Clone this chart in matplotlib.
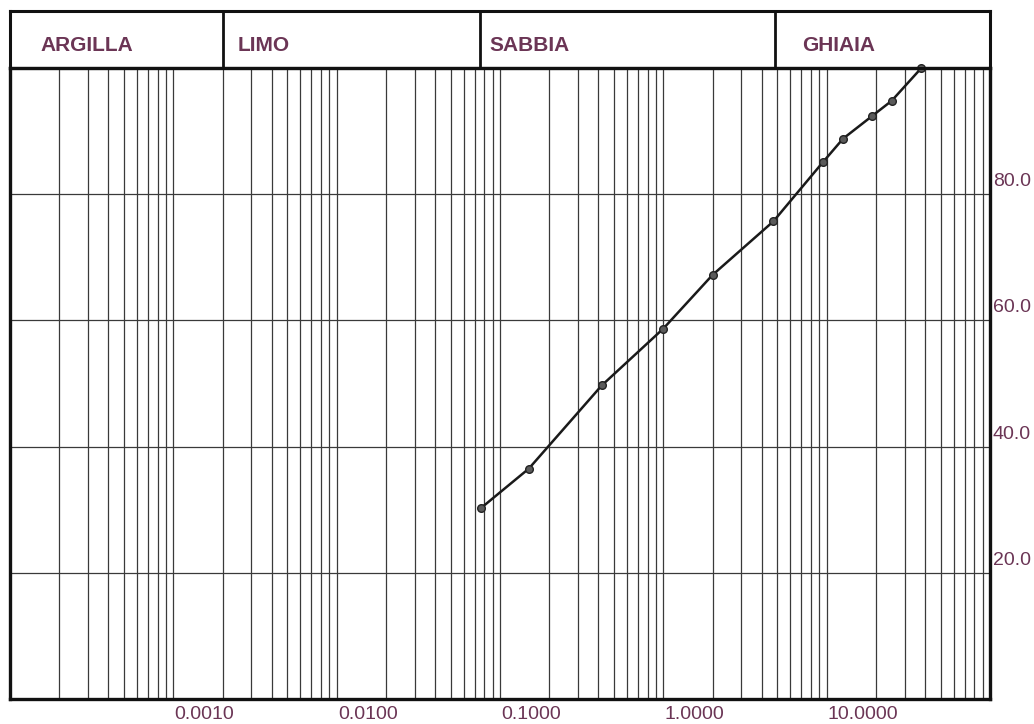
import numpy as np
import matplotlib
matplotlib.use("Agg")
import matplotlib.pyplot as plt
import matplotlib.transforms as mtransforms

# grain size (mm) and percent passing
diametri = [0.038, 0.075, 0.21, 0.5, 1.0, 2.36, 4.75, 6.3, 9.5, 12.5, 19.0]
passante = [30.2, 36.5, 49.7, 58.7, 67.2, 75.7, 85.1, 88.8, 92.4, 94.8, 100.0]

# soil classes and their lower limits on the size axis
classi = ["ARGILLA", "LIMO", "SABBIA", "GHIAIA"]
limiti_classi = [5e-5, 0.001, 0.0375, 2.4]

x_ticks = [0.001, 0.01, 0.1, 1, 10]
x_labels = ["0.0010", "0.0100", "0.1000", "1.0000", "10.0000"]
y_ticks = [20, 40, 60, 80]

plt.rcParams["font.family"] = ["Liberation Sans", "DejaVu Sans"]
label_col = "#6b3555"
grid_col = "#3a3a3a"

fig = plt.figure(figsize=(10.34, 7.24), dpi=100)
fig.patch.set_facecolor("white")
W, H = 1034.0, 724.0

# main grid
ax = fig.add_axes([10 / W, 25 / H, 980 / W, 631 / H])
ax.set_xscale("log")
ax.set_xlim(5e-5, 50)
ax.set_ylim(0, 100)

# vertical lines: 1, 1.5, 2 ... 5 in every decade
for e in range(-5, 2):
    for m in [1, 1.5, 2, 2.5, 3, 3.5, 4, 4.5, 5]:
        v = m * 10.0 ** e
        if 5e-5 < v < 50:
            ax.axvline(v, color=grid_col, lw=0.9, zorder=1)
for yv in y_ticks:
    ax.axhline(yv, color=grid_col, lw=0.9, zorder=1)

ax.plot(diametri, passante, color="#1a1a1a", lw=1.8, marker="o", ms=5.5,
        mfc="#5a5a5a", mec="#222222", mew=1.0, zorder=5, clip_on=False)

ax.set_xticks(x_ticks)
ax.set_xticklabels(x_labels)
ax.xaxis.set_minor_locator(matplotlib.ticker.NullLocator())
ax.set_yticks(y_ticks)
ax.set_yticklabels(["%.1f" % v for v in y_ticks])
ax.tick_params(axis="x", length=0, pad=5, labelsize=14, labelcolor=label_col)
ax.tick_params(axis="y", length=0, pad=2, labelsize=14, labelcolor=label_col,
               left=False, right=False, labelleft=False, labelright=True)
shift = mtransforms.ScaledTranslation(-48 / 100, 0, fig.dpi_scale_trans)
for lab in ax.get_xticklabels():
    lab.set_horizontalalignment("left")
    lab.set_transform(lab.get_transform() + shift)
up = mtransforms.ScaledTranslation(0, 4 / 100, fig.dpi_scale_trans)
for lab in ax.get_yticklabels():
    lab.set_verticalalignment("bottom")
    lab.set_transform(lab.get_transform() + up)
for sp in ax.spines.values():
    sp.set_linewidth(2.4)
    sp.set_color("#111111")

# class band on top (shares the size axis, no ticks of its own)
bx = fig.add_axes([10 / W, 656 / H, 980 / W, 57 / H], sharex=ax)
bx.set_ylim(0, 1)
bx.set_yticks([])
bx.tick_params(axis="x", which="both", length=0, labelbottom=False)
bx.patch.set_facecolor("none")
for sp in bx.spines.values():
    sp.set_linewidth(2.2)
    sp.set_color("#111111")
offsets = [30, 15, 10, 28]
for i, nome in enumerate(classi):
    if i > 0:
        bx.axvline(limiti_classi[i], color="#111111", lw=2.0)
    off = mtransforms.ScaledTranslation(offsets[i] / 100, 0, fig.dpi_scale_trans)
    bx.text(limiti_classi[i], 0.30, nome, fontsize=15, fontweight="bold",
            color=label_col, ha="left", va="baseline",
            transform=bx.transData + off)

fig.savefig("out.png", dpi=100)
